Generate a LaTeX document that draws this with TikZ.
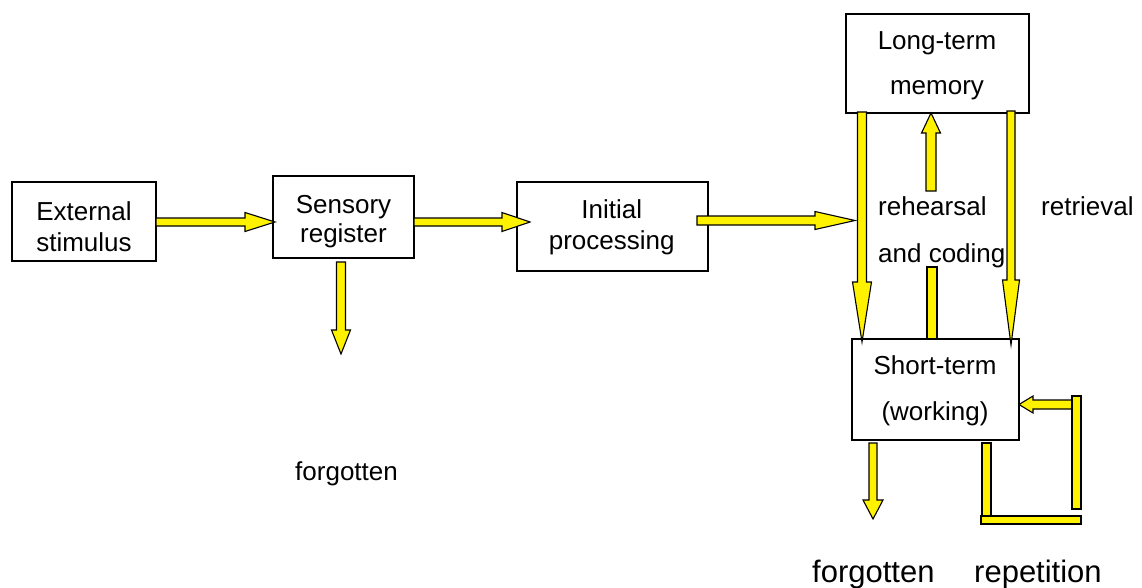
\documentclass[tikz,border=0pt]{standalone}
\usepackage{fontspec}
\setmainfont{Liberation Sans}
\usetikzlibrary{calc}
\tikzset{
  box/.style={draw=black, line width=1.3pt, fill=white, inner sep=0pt},
  txt/.style={inner sep=0pt, anchor=base, font=\fontsize{26}{30}\selectfont},
  txtw/.style={inner sep=0pt, anchor=base west, font=\fontsize{26}{30}\selectfont},
  bigtxt/.style={inner sep=0pt, anchor=base west, font=\fontsize{31}{36}\selectfont},
  yarr/.style={draw=black, fill=yellow, line width=1.1pt, line join=miter},
}
\newcommand\yarrow[6]{%
  \coordinate (#6h) at ($(#2)!#5!(#1)$);
  \draw[yarr] ($(#1)!#3!90:(#2)$) -- ($(#6h)!#3!90:(#2)$) -- ($(#6h)!#4!90:(#2)$)
    -- (#2) -- ($(#6h)!#4!-90:(#2)$) -- ($(#6h)!#3!-90:(#2)$) -- ($(#1)!#3!-90:(#2)$) -- cycle;
}
\begin{document}
\begin{tikzpicture}[x=1pt, y=-1pt]
\useasboundingbox[fill=white] (0,0) rectangle (1142,588);

% boxes
\node[box, minimum width=144pt, minimum height=79pt] (ext) at (84,221.5) {};
\node[box, minimum width=141pt, minimum height=82pt] (sens) at (343.5,217) {};
\node[box, minimum width=191pt, minimum height=89pt] (init) at (612.5,226.5) {};
\node[box, minimum width=183pt, minimum height=99pt] (ltm) at (937.5,63.5) {};
\node[box, minimum width=167pt, minimum height=101pt] (stm) at (935.5,389.5) {};

% box texts
\node[txt] (t1a) at (84,220) {External};
\node[txt] (t1b) at (84,251) {stimulus};
\node[txt] (t2a) at (343.5,213) {Sensory};
\node[txt] (t2b) at (343.5,242) {register};
\node[txt] (t3a) at (611.7,218) {Initial};
\node[txt] (t3b) at (611.7,249.5) {processing};
\node[txt] (t4a) at (937,50) {Long-term};
\node[txt] (t4b) at (937,95) {memory};
\node[txt] (t5a) at (935,374) {Short-term};
\node[txt] (t5b) at (935,420) {(working)};

% free labels
\node[txtw] (reh1) at (878,215) {rehearsal};
\node[txtw] (reh2) at (878,262) {and coding};
\node[txtw] (retr) at (1041,215) {retrieval};
\node[txtw] (forg1) at (295,480) {forgotten};
\node[bigtxt] (forg2) at (812,582) {forgotten};
\node[bigtxt] (rep) at (974,582) {repetition};

% arrow end points
\coordinate (a1s) at (156,222);   \coordinate (a1t) at (275,222);
\coordinate (a2s) at (414,222);   \coordinate (a2t) at (530,222);
\coordinate (a3s) at (697,220.5); \coordinate (a3t) at (855,220.5);
\coordinate (a4s) at (341,262);   \coordinate (a4t) at (341,354);
\coordinate (a5s) at (862,112);   \coordinate (a5t) at (862,342);
\coordinate (a6s) at (931,191);   \coordinate (a6t) at (931,113);
\coordinate (a7s) at (1011,111);  \coordinate (a7t) at (1011,345);
\coordinate (a8s) at (873,443);   \coordinate (a8t) at (873,519);
\coordinate (a9s) at (1081,404.5);\coordinate (a9t) at (1019,404.5);

\yarrow{a1s}{a1t}{4pt}{9.5pt}{30pt}{h1}
\yarrow{a2s}{a2t}{4pt}{9.5pt}{28pt}{h2}
\yarrow{a3s}{a3t}{4.5pt}{9pt}{40pt}{h3}
\yarrow{a4s}{a4t}{4.5pt}{9.5pt}{24pt}{h4}
\yarrow{a5s}{a5t}{4.5pt}{9.5pt}{60pt}{h5}
\yarrow{a6s}{a6t}{5pt}{9.5pt}{20pt}{h6}
\yarrow{a7s}{a7t}{4pt}{8.5pt}{65pt}{h7}
\yarrow{a8s}{a8t}{4pt}{10pt}{19pt}{h8}
\yarrow{a9s}{a9t}{4.5pt}{8.5pt}{14pt}{h9}

% bars without heads
\draw[yarr] (927,267) rectangle (937,339);
\draw[yarr] (982,443) rectangle (991,516);
\draw[yarr] (1072,396) rectangle (1081,509);
\draw[yarr] (981,516) rectangle (1081,524);
\end{tikzpicture}
\end{document}
